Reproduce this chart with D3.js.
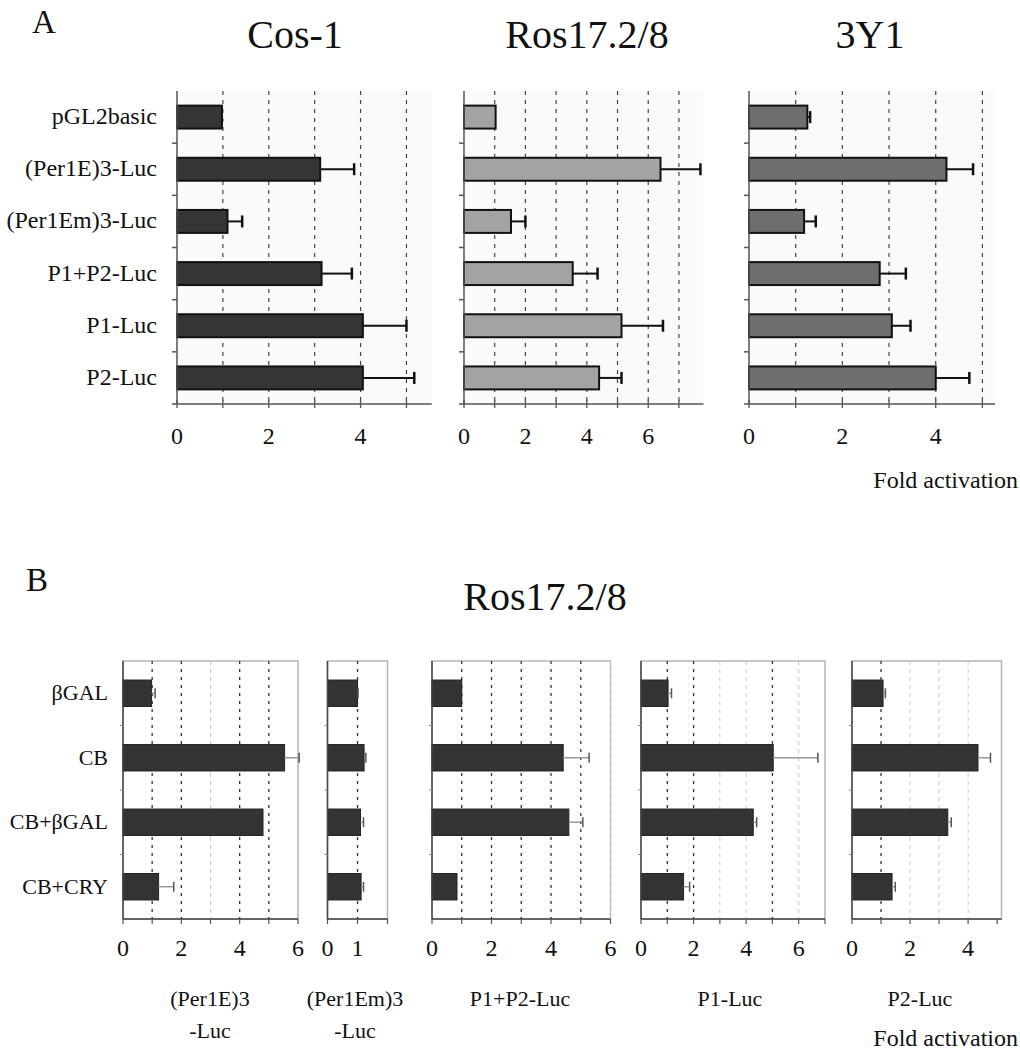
<!DOCTYPE html>
<html><head><meta charset="utf-8">
<script src="https://cdn.jsdelivr.net/npm/d3@7"></script>
<style>body{margin:0;background:#fff}svg{display:block}text{font-family:"Liberation Serif","Times New Roman",serif;fill:#111}</style>
</head><body><svg id="c" width="1020" height="1050"></svg>
<script>
// ---------- Panel A data ----------
const aCategories = ["pGL2basic","(Per1E)3-Luc","(Per1Em)3-Luc","P1+P2-Luc","P1-Luc","P2-Luc"];
const aTitles = ["Cos-1","Ros17.2/8","3Y1"];
const cosValues = [0.98, 3.12, 1.10, 3.15, 4.05, 4.05];
const cosErrors = [0.00, 0.74, 0.32, 0.66, 0.95, 1.12];
const rosValues = [1.03, 6.40, 1.53, 3.54, 5.13, 4.40];
const rosErrors = [0.00, 1.30, 0.47, 0.81, 1.35, 0.73];
const y3Values  = [1.25, 4.23, 1.18, 2.80, 3.06, 4.00];
const y3Errors  = [0.06, 0.57, 0.25, 0.56, 0.40, 0.72];
const aTickLabels = [[0,2,4],[0,2,4,6],[0,2,4]];
const aMax = [5.55, 7.8, 5.27];

// ---------- Panel B data ----------
const bCategories = ["βGAL","CB","CB+βGAL","CB+CRY"];
const bTitles = [["(Per1E)3","-Luc"],["(Per1Em)3","-Luc"],["P1+P2-Luc"],["P1-Luc"],["P2-Luc"]];
const per1eValues  = [0.98, 5.54, 4.80, 1.22];
const per1eErrors  = [0.12, 0.50, 0.00, 0.52];
const per1emValues = [1.00, 1.22, 1.10, 1.12];
const per1emErrors = [0.02, 0.06, 0.10, 0.08];
const p1p2Values   = [1.00, 4.41, 4.60, 0.84];
const p1p2Errors   = [0.00, 0.87, 0.47, 0.00];
const p1Values     = [1.03, 5.03, 4.27, 1.62];
const p1Errors     = [0.13, 1.70, 0.13, 0.23];
const p2Values     = [1.07, 4.34, 3.30, 1.38];
const p2Errors     = [0.08, 0.43, 0.12, 0.11];
const bTickLabels = [[0,2,4,6],[0,1],[0,2,4,6],[0,2,4,6],[0,2,4]];
const bMax = [6, 2, 6, 7, 5.15];
const bDarkGrid = [[1,2,4,5],[1],[1,2,3,4,5],[1,2,5],[1]];
const bLightGrid = [[3],[],[6],[3,4,6],[2,3,4]];

const svg = d3.select("#c");

// ================= PANEL A =================
svg.append("text").attr("x",32).attr("y",33).attr("font-size",33).text("A");
const aPanels = [
  {x0:177, x1:431.7, vals:cosValues, errs:cosErrors, fill:"#353535", cx:295},
  {x0:464, x1:703.5, vals:rosValues, errs:rosErrors, fill:"#a3a3a3", cx:587},
  {x0:749, x1:995,   vals:y3Values,  errs:y3Errors,  fill:"#6e6e6e", cx:870}
];
const aTop = 91, aBot = 404;
const ay = d3.scaleBand().domain(aCategories).range([aTop, aBot]);
aPanels.forEach((p, i) => {
  const x = d3.scaleLinear().domain([0, aMax[i]]).range([p.x0, p.x1]);
  const g = svg.append("g");
  g.append("rect").attr("x",p.x0).attr("y",aTop).attr("width",p.x1-p.x0).attr("height",aBot-aTop).attr("fill","#fafafa");
  g.selectAll(".grid").data(d3.range(1, Math.floor(aMax[i])+1)).join("line")
    .attr("x1",d=>x(d)).attr("x2",d=>x(d)).attr("y1",aTop).attr("y2",aBot)
    .attr("stroke","#444").attr("stroke-width",1.2).attr("stroke-dasharray","4,5");
  const bh = ay.bandwidth()*0.44;
  g.selectAll(".bar").data(aCategories).join("rect")
    .attr("x",x(0)).attr("y",d=>ay(d)+ay.bandwidth()/2-bh/2)
    .attr("width",(d,k)=>x(p.vals[k])-x(0)).attr("height",bh)
    .attr("fill",p.fill).attr("stroke","#111").attr("stroke-width",2);
  aCategories.forEach((c,k)=>{
    if (p.errs[k] <= 0) return;
    const yc = ay(c)+ay.bandwidth()/2;
    g.append("line").attr("x1",x(p.vals[k])).attr("x2",x(p.vals[k]+p.errs[k])).attr("y1",yc).attr("y2",yc).attr("stroke","#111").attr("stroke-width",2);
    g.append("line").attr("x1",x(p.vals[k]+p.errs[k])).attr("x2",x(p.vals[k]+p.errs[k])).attr("y1",yc-6).attr("y2",yc+6).attr("stroke","#111").attr("stroke-width",2.5);
  });
  g.append("line").attr("x1",p.x0).attr("x2",p.x0).attr("y1",aTop).attr("y2",aBot).attr("stroke","#555").attr("stroke-width",1.5);
  g.selectAll(".lt").data(aCategories.slice(1)).join("line")
    .attr("x1",p.x0-5).attr("x2",p.x0).attr("y1",d=>ay(d)).attr("y2",d=>ay(d)).attr("stroke","#555").attr("stroke-width",1.5);
  g.append("line").attr("x1",p.x0-5).attr("x2",p.x1).attr("y1",aBot).attr("y2",aBot).attr("stroke","#555").attr("stroke-width",1.5);
  g.selectAll(".bt").data(d3.range(0, Math.floor(aMax[i])+1)).join("line")
    .attr("x1",d=>x(d)).attr("x2",d=>x(d)).attr("y1",aBot-4).attr("y2",aBot+4).attr("stroke","#555").attr("stroke-width",1.3);
  g.selectAll(".tl").data(aTickLabels[i]).join("text")
    .attr("x",d=>x(d)).attr("y",444).attr("text-anchor","middle").attr("font-size",24).text(d=>d);
  svg.append("text").attr("x",p.cx).attr("y",48).attr("text-anchor","middle").attr("font-size",40).text(aTitles[i]);
});
svg.selectAll(".acat").data(aCategories).join("text")
  .attr("x",157).attr("y",d=>ay(d)+ay.bandwidth()/2+7).attr("text-anchor","end").attr("font-size",24).text(d=>d);
svg.append("text").attr("x",1018).attr("y",488).attr("text-anchor","end").attr("font-size",24).text("Fold activation");

// ================= PANEL B =================
svg.append("text").attr("x",26).attr("y",591).attr("font-size",33).text("B");
svg.append("text").attr("x",545).attr("y",610).attr("text-anchor","middle").attr("font-size",40).text("Ros17.2/8");
const bPanels = [
  {x0:123, x1:298,   vals:per1eValues,  errs:per1eErrors,  cx:210},
  {x0:327.5, x1:387.5, vals:per1emValues, errs:per1emErrors, cx:355},
  {x0:432, x1:610.5, vals:p1p2Values,   errs:p1p2Errors,   cx:520},
  {x0:641, x1:825,   vals:p1Values,     errs:p1Errors,     cx:730},
  {x0:852, x1:1001.5,vals:p2Values,     errs:p2Errors,     cx:920}
];
const bTop = 661, bBot = 919;
const by = d3.scaleBand().domain(bCategories).range([bTop, bBot]);
bPanels.forEach((p,i)=>{
  const x = d3.scaleLinear().domain([0,bMax[i]]).range([p.x0,p.x1]);
  const g = svg.append("g");
  g.append("rect").attr("x",p.x0).attr("y",bTop).attr("width",p.x1-p.x0).attr("height",bBot-bTop)
    .attr("fill","#fff").attr("stroke","#b5b5b5").attr("stroke-width",1.5);
  g.selectAll(".lg").data(bLightGrid[i]).join("line")
    .attr("x1",d=>x(d)).attr("x2",d=>x(d)).attr("y1",bTop).attr("y2",bBot)
    .attr("stroke","#c8c8c8").attr("stroke-width",1).attr("stroke-dasharray","4,4");
  g.selectAll(".dg").data(bDarkGrid[i]).join("line")
    .attr("x1",d=>x(d)).attr("x2",d=>x(d)).attr("y1",bTop).attr("y2",bBot)
    .attr("stroke","#333").attr("stroke-width",1.3).attr("stroke-dasharray","3,5");
  const bh = by.bandwidth()*0.41;
  g.selectAll(".bar").data(bCategories).join("rect")
    .attr("x",x(0)).attr("y",d=>by(d)+by.bandwidth()/2-bh/2)
    .attr("width",(d,k)=>x(p.vals[k])-x(0)).attr("height",bh)
    .attr("fill","#333").attr("stroke","#222").attr("stroke-width",1);
  bCategories.forEach((c,k)=>{
    if (p.errs[k] <= 0) return;
    const yc = by(c)+by.bandwidth()/2;
    g.append("line").attr("x1",x(p.vals[k])).attr("x2",x(p.vals[k]+p.errs[k])).attr("y1",yc).attr("y2",yc).attr("stroke","#999").attr("stroke-width",1.5);
    g.append("line").attr("x1",x(p.vals[k]+p.errs[k])).attr("x2",x(p.vals[k]+p.errs[k])).attr("y1",yc-5).attr("y2",yc+5).attr("stroke","#555").attr("stroke-width",1.5);
  });
  g.append("line").attr("x1",p.x0).attr("x2",p.x0).attr("y1",bTop).attr("y2",bBot).attr("stroke","#444").attr("stroke-width",1.5);
  g.selectAll(".lt").data(bCategories.slice(1)).join("line")
    .attr("x1",p.x0-3).attr("x2",p.x0).attr("y1",d=>by(d)).attr("y2",d=>by(d)).attr("stroke","#888").attr("stroke-width",1);
  g.append("line").attr("x1",p.x0).attr("x2",p.x1).attr("y1",bBot).attr("y2",bBot).attr("stroke","#444").attr("stroke-width",1.5);
  g.selectAll(".bt").data(d3.range(0, Math.floor(bMax[i])+1)).join("line")
    .attr("x1",d=>x(d)).attr("x2",d=>x(d)).attr("y1",bBot).attr("y2",bBot+5).attr("stroke","#555").attr("stroke-width",1.2);
  g.selectAll(".tl").data(bTickLabels[i]).join("text")
    .attr("x",d=>x(d)).attr("y",956).attr("text-anchor","middle").attr("font-size",24).text(d=>d);
  g.selectAll(".st").data(bTitles[i]).join("text")
    .attr("x",p.cx).attr("y",(d,k)=>1006+k*32).attr("text-anchor","middle").attr("font-size",22).text(d=>d);
});
svg.selectAll(".bcat").data(bCategories).join("text")
  .attr("x",108).attr("y",d=>by(d)+by.bandwidth()/2+7).attr("text-anchor","end").attr("font-size",22).text(d=>d);
svg.append("text").attr("x",1018).attr("y",1046).attr("text-anchor","end").attr("font-size",24).text("Fold activation");
</script></body></html>
